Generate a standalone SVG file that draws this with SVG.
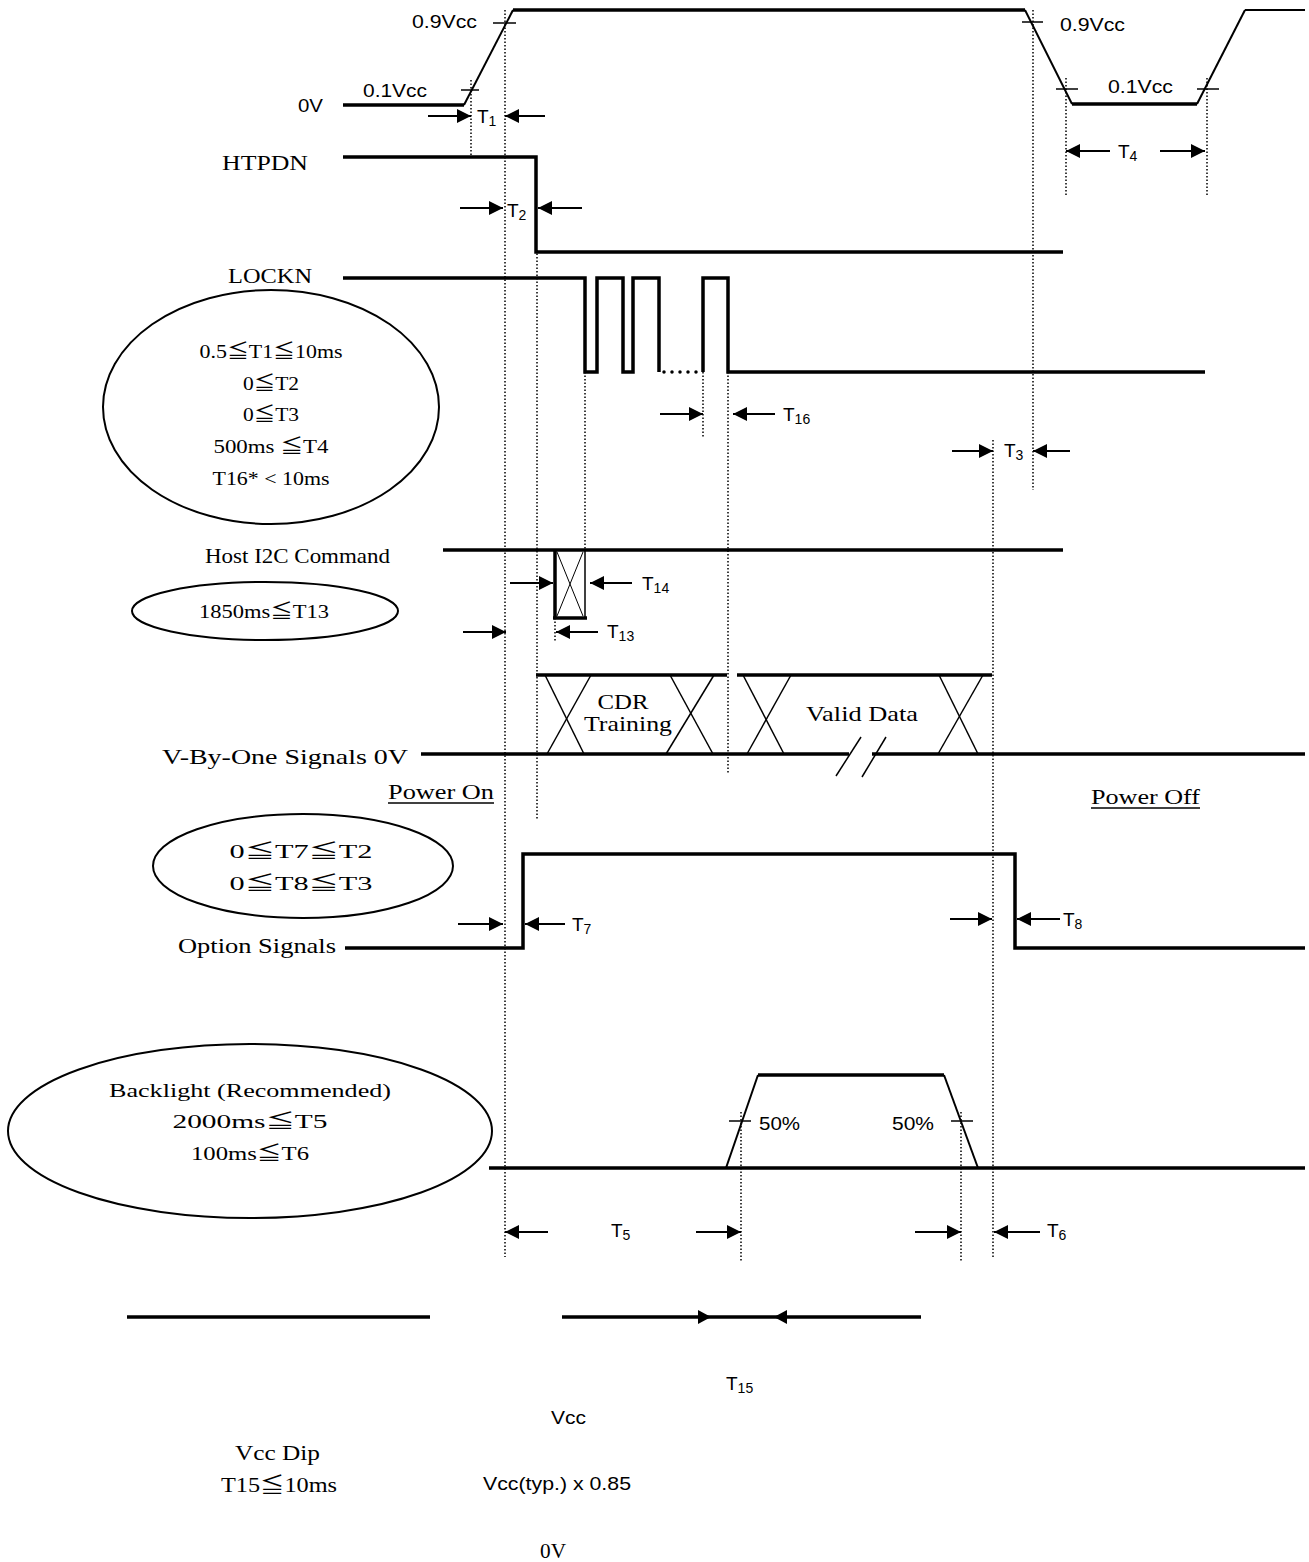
<svg xmlns="http://www.w3.org/2000/svg" width="1309" height="1562" viewBox="0 0 1309 1562">
<style>
.sig{stroke:#000;stroke-width:3.5;fill:none;stroke-linejoin:miter}
.slope{stroke:#000;stroke-width:2;fill:none}
.thin{stroke:#000;stroke-width:1.5;fill:none}
.dot{stroke:#000;stroke-width:1.5;stroke-dasharray:1.5 2;fill:none}
.arr{stroke:#000;stroke-width:2;fill:none;marker-end:url(#ah)}
.ell{stroke:#000;stroke-width:2;fill:none}
.sans{font-family:"Liberation Sans",Arial,sans-serif;font-size:19px;fill:#000}
.serif{font-family:"Liberation Serif","Noto Sans CJK JP",serif;font-size:21px;fill:#000}
.es{font-family:"Liberation Serif","Noto Sans CJK JP",serif;font-size:19px;fill:#000}
.sub{font-size:14px}
</style>
<defs>
<marker id="ah" markerUnits="userSpaceOnUse" viewBox="0 0 14 14" markerWidth="14" markerHeight="14" refX="14" refY="7" orient="auto">
<path d="M0,0 L14,7 L0,14 z" fill="#000"/>
</marker>
</defs>
<rect width="1309" height="1562" fill="#fff"/>

<g id="connectors">
<line class="dot" x1="471" y1="80" x2="471" y2="155"/>
<line class="dot" x1="505" y1="10" x2="505" y2="1257"/>
<line class="dot" x1="537" y1="250" x2="537" y2="820"/>
<line class="dot" x1="1033" y1="10" x2="1033" y2="490"/>
<line class="dot" x1="1066" y1="78" x2="1066" y2="195"/>
<line class="dot" x1="1207" y1="78" x2="1207" y2="195"/>
<line class="dot" x1="585" y1="372" x2="585" y2="550"/>
<line class="dot" x1="703" y1="372" x2="703" y2="437"/>
<line class="dot" x1="728" y1="372" x2="728" y2="773"/>
<line class="dot" x1="993" y1="440" x2="993" y2="1257"/>
<line class="dot" x1="555" y1="618" x2="555" y2="642"/>
<line class="dot" x1="741" y1="1112" x2="741" y2="1262"/>
<line class="dot" x1="961" y1="1112" x2="961" y2="1262"/>

<line class="arr" x1="428" y1="116" x2="471" y2="116"/>
<line class="arr" x1="545" y1="116" x2="505" y2="116"/>
<line class="arr" x1="1110" y1="151" x2="1066" y2="151"/>
<line class="arr" x1="1160" y1="151" x2="1205" y2="151"/>
<line class="arr" x1="460" y1="208" x2="503" y2="208"/>
<line class="arr" x1="582" y1="208" x2="538" y2="208"/>
<line class="arr" x1="660" y1="414" x2="703" y2="414"/>
<line class="arr" x1="775" y1="414" x2="733" y2="414"/>
<line class="arr" x1="952" y1="451" x2="993" y2="451"/>
<line class="arr" x1="1070" y1="451" x2="1033" y2="451"/>
<line class="arr" x1="510" y1="583" x2="553" y2="583"/>
<line class="arr" x1="632" y1="583" x2="590" y2="583"/>
<line class="arr" x1="463" y1="632" x2="506" y2="632"/>
<line class="arr" x1="598" y1="632" x2="556" y2="632"/>
<line class="arr" x1="458" y1="924" x2="503" y2="924"/>
<line class="arr" x1="565" y1="924" x2="525" y2="924"/>
<line class="arr" x1="950" y1="919" x2="992" y2="919"/>
<line class="arr" x1="1060" y1="919" x2="1017" y2="919"/>
<line class="arr" x1="548" y1="1232" x2="505" y2="1232"/>
<line class="arr" x1="696" y1="1232" x2="741" y2="1232"/>
<line class="arr" x1="915" y1="1232" x2="961" y2="1232"/>
<line class="arr" x1="1040" y1="1232" x2="994" y2="1232"/>
</g>

<g id="vcc">
<line class="sig" x1="343" y1="105" x2="464" y2="105"/>
<line class="slope" x1="464" y1="105" x2="513" y2="10"/>
<line class="sig" x1="513" y1="10" x2="1025" y2="10"/>
<line class="slope" x1="1025" y1="10" x2="1072" y2="104"/>
<line class="sig" x1="1072" y1="104" x2="1197" y2="104"/>
<line class="slope" x1="1197" y1="104" x2="1245" y2="10"/>
<line class="slope" x1="1245" y1="10" x2="1305" y2="10"/>
<line class="thin" x1="461" y1="90" x2="479" y2="90"/>
<line class="thin" x1="493" y1="23" x2="516" y2="23"/>
<line class="thin" x1="1022" y1="22" x2="1043" y2="22"/>
<line class="thin" x1="1056" y1="89" x2="1078" y2="89"/>
<line class="thin" x1="1197" y1="89" x2="1219" y2="89"/>
<text class="sans" x="298" y="112" textLength="25" lengthAdjust="spacingAndGlyphs">0V</text>
<text class="sans" x="412" y="28" textLength="65" lengthAdjust="spacingAndGlyphs">0.9Vcc</text>
<text class="sans" x="363" y="97" textLength="64" lengthAdjust="spacingAndGlyphs">0.1Vcc</text>
<text class="sans" x="1060" y="31" textLength="65" lengthAdjust="spacingAndGlyphs">0.9Vcc</text>
<text class="sans" x="1108" y="93" textLength="65" lengthAdjust="spacingAndGlyphs">0.1Vcc</text>
<text class="sans" x="477" y="123">T<tspan class="sub" dy="3">1</tspan></text>
<text class="sans" x="1118" y="158">T<tspan class="sub" dy="3">4</tspan></text>
</g>

<g id="htpdn">
<text class="serif" x="222" y="170" textLength="86" lengthAdjust="spacingAndGlyphs">HTPDN</text>
<polyline class="sig" points="343,157 536,157 536,252 1063,252"/>
<text class="sans" x="507" y="217">T<tspan class="sub" dy="3">2</tspan></text>
</g>

<g id="lockn">
<text class="serif" x="228" y="283" textLength="84" lengthAdjust="spacingAndGlyphs">LOCKN</text>
<polyline class="sig" points="343,278 585,278 585,372 597,372 597,278 623,278 623,372 633,372 633,278 659,278 659,372"/>
<line x1="664" y1="372" x2="700" y2="372" stroke="#000" stroke-width="3.5" stroke-linecap="round" stroke-dasharray="0 8"/>
<polyline class="sig" points="703,372 703,278 728,278 728,372 1205,372"/>
<text class="sans" x="783" y="421">T<tspan class="sub" dy="3">16</tspan></text>
<text class="sans" x="1004" y="457">T<tspan class="sub" dy="3">3</tspan></text>
</g>

<g id="spec1">
<ellipse class="ell" cx="271" cy="407" rx="168" ry="117"/>
<text class="es" x="271" y="358" text-anchor="middle" textLength="143" lengthAdjust="spacingAndGlyphs">0.5≦T1≦10ms</text>
<text class="es" x="271" y="390" text-anchor="middle" textLength="56" lengthAdjust="spacingAndGlyphs">0≦T2</text>
<text class="es" x="271" y="421" text-anchor="middle" textLength="56" lengthAdjust="spacingAndGlyphs">0≦T3</text>
<text class="es" x="271" y="453" text-anchor="middle" textLength="115" lengthAdjust="spacingAndGlyphs">500ms  ≦T4</text>
<text class="es" x="271" y="485" text-anchor="middle" textLength="117" lengthAdjust="spacingAndGlyphs">T16* &lt; 10ms</text>
</g>

<g id="hosti2c">
<text class="serif" x="205" y="563" textLength="185" lengthAdjust="spacingAndGlyphs">Host I2C Command</text>
<line class="sig" x1="443" y1="550" x2="1063" y2="550"/>
<line class="sig" x1="555" y1="550" x2="555" y2="618"/>
<line class="sig" x1="553" y1="618" x2="587" y2="618"/>
<line class="thin" x1="585" y1="550" x2="585" y2="618"/>
<line stroke="#000" stroke-width="1" x1="557" y1="552" x2="583" y2="616"/>
<line stroke="#000" stroke-width="1" x1="583" y1="552" x2="557" y2="616"/>
<text class="sans" x="642" y="590">T<tspan class="sub" dy="3">14</tspan></text>
<text class="sans" x="607" y="638">T<tspan class="sub" dy="3">13</tspan></text>
</g>

<g id="spec2">
<ellipse class="ell" cx="265" cy="611" rx="133" ry="29"/>
<text class="es" x="264" y="618" text-anchor="middle" textLength="130" lengthAdjust="spacingAndGlyphs">1850ms≦T13</text>
</g>

<g id="vbyone">
<text class="serif" x="162" y="764" textLength="246" lengthAdjust="spacingAndGlyphs">V-By-One Signals 0V</text>
<line class="sig" x1="421" y1="754" x2="849" y2="754"/>
<line class="sig" x1="872" y1="754" x2="1305" y2="754"/>
<line class="sig" x1="536" y1="675" x2="727" y2="675"/>
<line class="sig" x1="737" y1="675" x2="992" y2="675"/>
<line class="thin" x1="545" y1="675" x2="584" y2="754"/>
<line class="thin" x1="547" y1="754" x2="591" y2="675"/>
<line class="thin" x1="670" y1="675" x2="713" y2="754"/>
<line class="thin" x1="666" y1="754" x2="714" y2="675"/>
<line class="thin" x1="743" y1="675" x2="784" y2="754"/>
<line class="thin" x1="747" y1="754" x2="791" y2="675"/>
<line class="thin" x1="939" y1="675" x2="978" y2="754"/>
<line class="thin" x1="938" y1="754" x2="983" y2="675"/>
<line class="thin" x1="836" y1="776" x2="861" y2="737"/>
<line class="thin" x1="862" y1="777" x2="886" y2="737"/>
<text class="serif" x="623" y="709" text-anchor="middle" textLength="51" lengthAdjust="spacingAndGlyphs" font-size="19">CDR</text>
<text class="serif" x="628" y="731" text-anchor="middle" textLength="88" lengthAdjust="spacingAndGlyphs" font-size="19">Training</text>
<text class="serif" x="806" y="721" textLength="112" lengthAdjust="spacingAndGlyphs">Valid Data</text>
<text class="serif" x="388" y="799" textLength="106" lengthAdjust="spacingAndGlyphs">Power On</text>
<line stroke="#000" stroke-width="1.5" x1="388" y1="803" x2="494" y2="803"/>
<text class="serif" x="1091" y="804" textLength="109" lengthAdjust="spacingAndGlyphs">Power Off</text>
<line stroke="#000" stroke-width="1.5" x1="1091" y1="808" x2="1200" y2="808"/>
</g>

<g id="spec3">
<ellipse class="ell" cx="303" cy="866" rx="150" ry="52"/>
<text class="es" x="301" y="858" text-anchor="middle" textLength="143" lengthAdjust="spacingAndGlyphs">0≦T7≦T2</text>
<text class="es" x="301" y="890" text-anchor="middle" textLength="143" lengthAdjust="spacingAndGlyphs">0≦T8≦T3</text>
</g>

<g id="option">
<text class="serif" x="178" y="953" textLength="158" lengthAdjust="spacingAndGlyphs">Option Signals</text>
<polyline class="sig" points="345,948 523,948 523,854 1015,854 1015,948 1305,948"/>
<text class="sans" x="572" y="931">T<tspan class="sub" dy="3">7</tspan></text>
<text class="sans" x="1063" y="926">T<tspan class="sub" dy="3">8</tspan></text>
</g>

<g id="spec4">
<ellipse class="ell" cx="250" cy="1131" rx="242" ry="87"/>
<text class="es" x="250" y="1097" text-anchor="middle" textLength="282" lengthAdjust="spacingAndGlyphs">Backlight (Recommended)</text>
<text class="es" x="250" y="1128" text-anchor="middle" textLength="155" lengthAdjust="spacingAndGlyphs">2000ms≦T5</text>
<text class="es" x="250" y="1160" text-anchor="middle" textLength="118" lengthAdjust="spacingAndGlyphs">100ms≦T6</text>
</g>

<g id="backlight">
<line class="sig" x1="489" y1="1168" x2="1305" y2="1168"/>
<line class="slope" x1="726" y1="1168" x2="758" y2="1075"/>
<line class="sig" x1="758" y1="1075" x2="944" y2="1075"/>
<line class="slope" x1="944" y1="1075" x2="978" y2="1168"/>
<line class="thin" x1="729" y1="1121" x2="751" y2="1121"/>
<line class="thin" x1="951" y1="1121" x2="973" y2="1121"/>
<text class="sans" x="759" y="1130" textLength="41" lengthAdjust="spacingAndGlyphs">50%</text>
<text class="sans" x="892" y="1130" textLength="42" lengthAdjust="spacingAndGlyphs">50%</text>
<text class="sans" x="611" y="1237">T<tspan class="sub" dy="3">5</tspan></text>
<text class="sans" x="1047" y="1237">T<tspan class="sub" dy="3">6</tspan></text>
</g>

<g id="vccdip">
<line class="sig" x1="127" y1="1317" x2="430" y2="1317"/>
<line class="sig" x1="562" y1="1317" x2="921" y2="1317"/>
<path d="M698,1310 L711,1317 L698,1324 z" fill="#000"/>
<path d="M787,1310 L774,1317 L787,1324 z" fill="#000"/>
<text class="sans" x="726" y="1390" font-size="17">T<tspan class="sub" font-size="13" dy="3">15</tspan></text>
<text class="sans" x="551" y="1424" textLength="35" lengthAdjust="spacingAndGlyphs">Vcc</text>
<text class="serif" x="235" y="1460" textLength="85" lengthAdjust="spacingAndGlyphs">Vcc Dip</text>
<text class="serif" x="221" y="1492" textLength="116" lengthAdjust="spacingAndGlyphs">T15≦10ms</text>
<text class="sans" x="483" y="1490" textLength="148" lengthAdjust="spacingAndGlyphs">Vcc(typ.) x 0.85</text>
<text class="serif" x="540" y="1558" textLength="26" lengthAdjust="spacingAndGlyphs">0V</text>
</g>
</svg>
